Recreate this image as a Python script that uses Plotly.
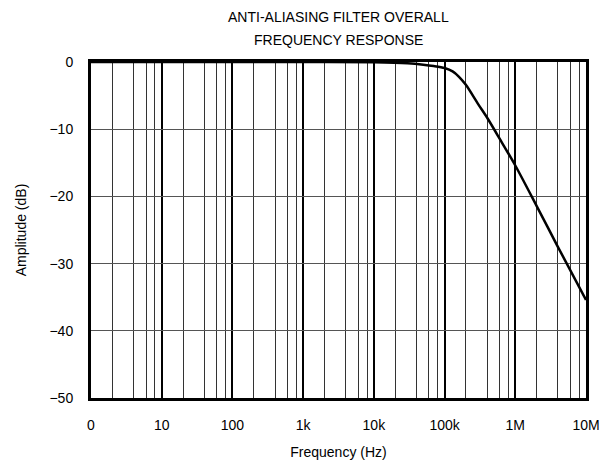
import plotly.graph_objects as go

# Data
freq_hz = [1, 1e3, 1e4, 3e4, 5e4, 7e4, 1e5, 1.3e5, 1.6e5, 2e5, 3e5,
           4e5, 6e5, 1e6, 2e6, 4e6, 1e7]
amplitude_db = [0, 0, -0.05, -0.2, -0.4, -0.6, -0.9, -1.4, -2.2, -3.4, -6.3,
                -8.3, -11.4, -15.4, -21.4, -27.5, -35.4]

title_lines = ["ANTI-ALIASING FILTER OVERALL", "FREQUENCY RESPONSE"]
x_tickvals = [1, 10, 100, 1e3, 1e4, 1e5, 1e6, 1e7]
x_ticktext = ["0", "10", "100", "1k", "10k", "100k", "1M", "10M"]
x_minor = [d * m for d in [1, 10, 100, 1e3, 1e4, 1e5, 1e6] for m in (2, 4, 6, 8)]
y_tickvals = [0, -10, -20, -30, -40, -50]

font_family = "Arial, Liberation Sans, sans-serif"
m_top, m_bot = 62, 68
plot_h = 466 - m_top - m_bot

fig = go.Figure()
fig.add_trace(go.Scatter(
    x=freq_hz, y=amplitude_db, mode="lines",
    line=dict(color="black", width=2.5, shape="spline", smoothing=0.8),
    showlegend=False, hoverinfo="skip",
))

for text, ypix in zip(title_lines, [17, 40]):
    fig.add_annotation(
        text=text, xref="paper", yref="paper", x=0.5, y=1 + (m_top - ypix) / plot_h,
        xanchor="center", yanchor="middle", showarrow=False,
        font=dict(family=font_family, size=14, color="black"),
    )

fig.update_layout(
    width=613, height=466,
    margin=dict(l=91, r=27, t=m_top, b=m_bot),
    paper_bgcolor="white", plot_bgcolor="white",
    font=dict(family=font_family, size=14, color="black"),
    xaxis=dict(
        type="log", range=[0, 7], automargin=False,
        tickmode="array", tickvals=x_tickvals, ticktext=x_ticktext,
        showgrid=True, gridcolor="black", gridwidth=2,
        minor=dict(tickvals=x_minor, showgrid=True, gridcolor="#333333", gridwidth=1, ticks=""),
        showline=True, linecolor="black", linewidth=3, mirror=True,
        ticks="", ticklabelstandoff=12,
        title=dict(text="Frequency (Hz)", standoff=16, font=dict(size=14)),
        zeroline=False,
    ),
    yaxis=dict(
        range=[-50, 0], automargin=False,
        tickmode="array", tickvals=y_tickvals,
        showgrid=True, gridcolor="#555555", gridwidth=1,
        showline=True, linecolor="black", linewidth=3, mirror=True,
        ticks="", ticklabelstandoff=12,
        title=dict(text="Amplitude (dB)", standoff=20, font=dict(size=14)),
        zeroline=False,
    ),
)

fig.write_html("out.html", config={"displayModeBar": False},
               post_script="document.body.style.margin='0';")
